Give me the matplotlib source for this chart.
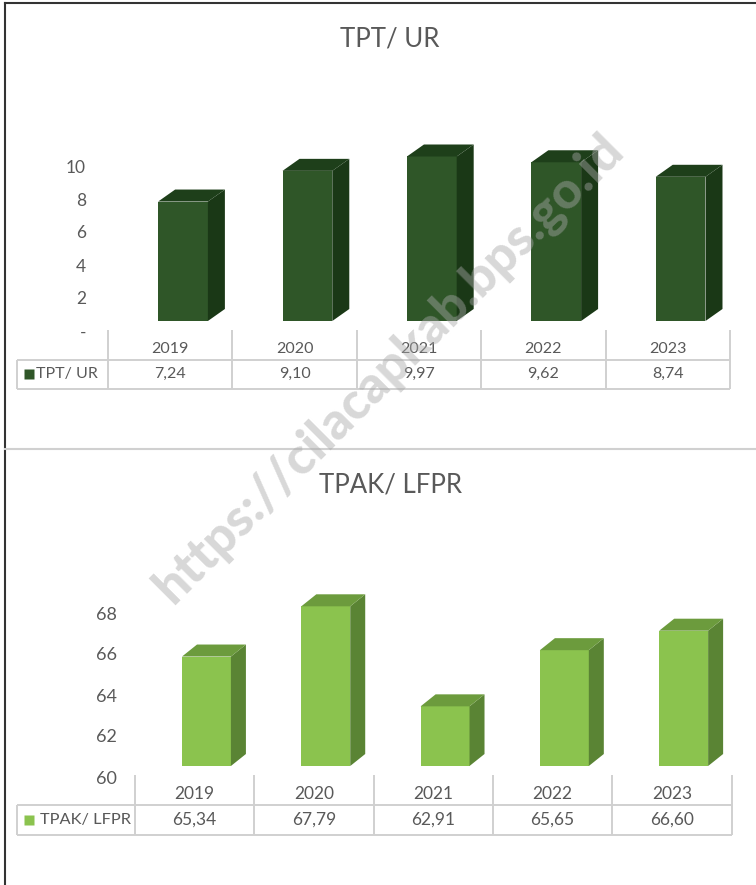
import matplotlib
matplotlib.use("Agg")
import matplotlib.pyplot as plt
from matplotlib.patches import Polygon
from matplotlib.lines import Line2D
import matplotlib.transforms as mtransforms

# ---------------- data ----------------
years = ["2019", "2020", "2021", "2022", "2023"]
tpt_values = [7.24, 9.10, 9.97, 9.62, 8.74]
tpt_labels = ["7,24", "9,10", "9,97", "9,62", "8,74"]
tpak_values = [65.34, 67.79, 62.91, 65.65, 66.60]
tpak_labels = ["65,34", "67,79", "62,91", "65,65", "66,60"]
tpt_ticks = [0, 2, 4, 6, 8, 10]
tpt_ticklabels = ["-", "2", "4", "6", "8", "10"]
tpak_ticks = [60, 62, 64, 66, 68]
tpak_ticklabels = ["60", "62", "64", "66", "68"]
title_top = "TPT/ UR"
title_bottom = "TPAK/ LFPR"
series_top = "TPT/ UR"
series_bottom = "TPAK/ LFPR"
watermark = "https://cilacapkab.bps.go.id"

# ---------------- style ----------------
W, H = 756, 885
DPI = 100
FONT = ["Lato", "DejaVu Sans"]
plt.rcParams["font.family"] = FONT
TXT = "#595959"
GRID = "#d0d0d0"

fig = plt.figure(figsize=(W / DPI, H / DPI), dpi=DPI)
fig.patch.set_facecolor("white")


def rect(x0, y0, x1, y1):
    """pixel box (from top-left) -> figure rect"""
    return [x0 / W, 1 - y1 / H, (x1 - x0) / W, (y1 - y0) / H]


def draw_bars(ax, values, base, off, width, ddx, ddy, c_front, c_side, c_top):
    xs = [i + off for i in range(len(values))]
    bars = ax.bar(xs, [v - base for v in values], width=width, bottom=base,
                  align="edge", color=c_front, edgecolor="none", zorder=3)
    for b in bars:
        x0 = b.get_x()
        x1 = x0 + b.get_width()
        y0 = b.get_y()
        y1 = y0 + b.get_height()
        side = Polygon([(x1, y0), (x1 + ddx, y0 + ddy), (x1 + ddx, y1 + ddy), (x1, y1)],
                       closed=True, facecolor=c_side, edgecolor="none", zorder=3)
        top = Polygon([(x0, y1), (x1, y1), (x1 + ddx, y1 + ddy), (x0 + ddx, y1 + ddy)],
                      closed=True, facecolor=c_top, edgecolor="none", zorder=3)
        ax.add_patch(side)
        ax.add_patch(top)


def style_axis(ax, ticks, ticklabels, pad_px, shift_px, fs):
    for s in ax.spines.values():
        s.set_visible(False)
    ax.set_xticks([])
    ax.set_yticks(ticks)
    ax.set_yticklabels(ticklabels)
    ax.tick_params(axis="y", length=0, pad=pad_px * 72 / DPI, labelsize=fs, labelcolor=TXT)
    off = mtransforms.ScaledTranslation(0, -shift_px / DPI, fig.dpi_scale_trans)
    for lab in ax.get_yticklabels():
        lab.set_transform(lab.get_transform() + off)
    ax.patch.set_alpha(0)


def draw_table(ax, legend_w, labels, values_lbl, series, color, fs, legend_fs,
               mark_x, text_x, msize, year_y):
    n = len(labels)
    ax.set_xlim(-0.5 - legend_w, n - 0.5)
    ax.set_ylim(0, 2)
    ax.axis("off")
    lw = 1.4
    kw = dict(color=GRID, lw=lw, solid_capstyle="butt", clip_on=False)
    ax.plot([-0.5 - legend_w, n - 0.5], [1, 1], **kw)
    ax.plot([-0.5 - legend_w, n - 0.5], [0, 0], **kw)
    ax.plot([-0.5 - legend_w, -0.5 - legend_w], [0, 1], **kw)
    for k in range(n + 1):
        ax.plot([k - 0.5, k - 0.5], [0, 2], **kw)
    for i, (yl, vl) in enumerate(zip(labels, values_lbl)):
        ax.text(i, year_y, yl, ha="center", va="center", fontsize=fs, color=TXT)
        ax.text(i, 0.5, vl, ha="center", va="center", fontsize=fs, color=TXT)
    xmin = -0.5 - legend_w
    ax.plot([xmin + mark_x], [0.5], marker="s", ms=msize, color=color, mec="none",
            clip_on=False)
    ax.text(xmin + text_x, 0.5, series, ha="left", va="center", fontsize=legend_fs,
            color=TXT)


# ---------------- top chart: TPT/ UR ----------------
col_top = (730 - 108) / 5.0
ax1 = fig.add_axes(rect(108, 321 - 11 * 16.5, 730, 321))
ax1.set_xlim(-0.5, 4.5)
ax1.set_ylim(0, 11)
draw_bars(ax1, tpt_values, 0, -0.097, 0.40, 17 / col_top, 12 / 16.5,
          "#2f5628", "#1a3816", "#1e3f1a")
style_axis(ax1, tpt_ticks, tpt_ticklabels, 22, 10, 12.5)

tab1 = fig.add_axes(rect(17, 330, 730, 389))
lw1 = (108 - 17) / col_top
draw_table(tab1, lw1, years, tpt_labels, series_top, "#2f5628", 11.5, 11.5,
           (29 - 17) / col_top, (36 - 17) / col_top, 7, 1.37)

fig.text(390 / W, 1 - 38.5 / H, title_top, ha="center", va="center",
         fontsize=18.5, color=TXT)

# ---------------- bottom chart: TPAK/ LFPR ----------------
col_bot = (731.5 - 135) / 5.0
ax2 = fig.add_axes(rect(135, 766 - 9.5 * 20.5, 731.5, 766))
ax2.set_xlim(-0.5, 4.5)
ax2.set_ylim(60, 69.5)
draw_bars(ax2, tpak_values, 60, -0.106, 0.41, 15 / col_bot, 12 / 20.5,
          "#8bc34e", "#5a8434", "#6c9b3d")
style_axis(ax2, tpak_ticks, tpak_ticklabels, 18, 11, 13)

tab2 = fig.add_axes(rect(17, 775, 731.5, 835))
lw2 = (135 - 17) / col_bot
draw_table(tab2, lw2, years, tpak_labels, series_bottom, "#8bc34e", 12.5, 11.8,
           (29 - 17) / col_bot, (40 - 17) / col_bot, 7.5, 1.38)

fig.text(390 / W, 1 - 485 / H, title_bottom, ha="center", va="center",
         fontsize=18.5, color=TXT)

# ---------------- frame lines ----------------
fig.add_artist(Line2D([5 / W, 5 / W], [0, 1 - 3 / H], color="#333333", lw=1.5))
fig.add_artist(Line2D([5 / W, 1], [1 - 3 / H, 1 - 3 / H], color="#333333", lw=1.5))
fig.add_artist(Line2D([5 / W, 1], [1 - 449 / H, 1 - 449 / H], color=GRID, lw=1.5))

# ---------------- watermark ----------------
fig.text(389 / W, 1 - 369 / H, watermark, rotation=45, ha="center", va="center",
         fontsize=37, fontweight=900, color="#a8a8a8", alpha=0.45, zorder=10)

fig.savefig("out.png", dpi=DPI, facecolor="white")
